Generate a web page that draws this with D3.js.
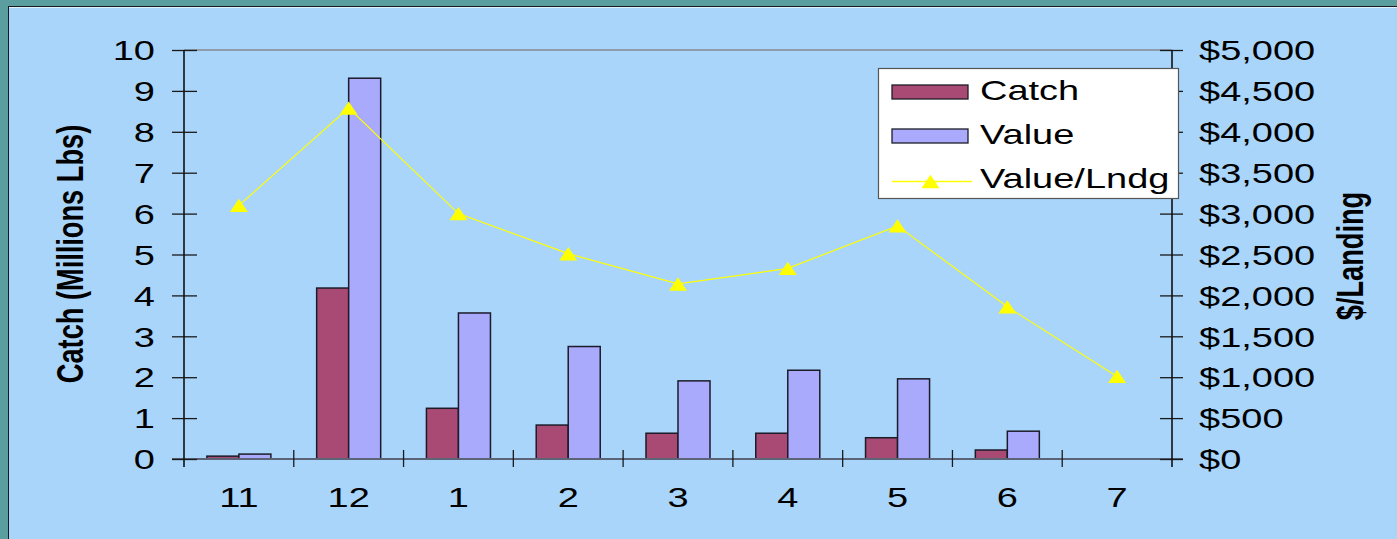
<!DOCTYPE html>
<html><head><meta charset="utf-8">
<script src="https://cdn.jsdelivr.net/npm/d3@7"></script>
<style>html,body{margin:0;padding:0;background:#5b9e9f;overflow:hidden}</style>
</head><body>
<svg id="c" width="1397" height="539"></svg>
<script>
const categories = ["11","12","1","2","3","4","5","6","7"];
const catchVals = [0.07, 4.18, 1.24, 0.83, 0.63, 0.63, 0.52, 0.22, 0];
const valueVals = [0.12, 9.31, 3.57, 2.75, 1.91, 2.17, 1.96, 0.68, 0];
const perLanding = [3100, 4290, 3000, 2510, 2140, 2330, 2850, 1860, 1010];
const leftTicks = [0,1,2,3,4,5,6,7,8,9,10];
const rightTicks = [0,500,1000,1500,2000,2500,3000,3500,4000,4500,5000];
const seriesNames = ["Catch","Value","Value/Lndg"];

const SX = 1.333; // horizontal stretch of the original picture
const FONT = "'Liberation Sans', Arial, sans-serif";
const FS = 28.5;
const colCatch = "#a94a74", colValue = "#aaaafc", colLine = "#ffff00";

const svg = d3.select("#c");
svg.append("rect").attr("x",0).attr("y",0).attr("width",1397).attr("height",539).attr("fill","#5b9e9f");
svg.append("rect").attr("x",8).attr("y",6).attr("width",1397).attr("height",539).attr("fill","#a9d5fb");
svg.append("line").attr("x1",8).attr("x2",1397).attr("y1",6.5).attr("y2",6.5).attr("stroke","#1a1a1a").attr("stroke-width",1);
svg.append("line").attr("x1",8.5).attr("x2",8.5).attr("y1",6).attr("y2",539).attr("stroke","#1a1a1a").attr("stroke-width",1);
svg.append("line").attr("x1",9).attr("x2",1397).attr("y1",7.5).attr("y2",7.5).attr("stroke","#dff0ff").attr("stroke-width",1);

const L = 184, R = 1172, T = 50, B = 459;
const x = d3.scaleBand().domain(categories).range([L, R]).padding(0);
const x1 = d3.scaleBand().domain(["Catch","Value"]).range([0, x.bandwidth()]).paddingInner(0).paddingOuter(0.715);
const yL = d3.scaleLinear().domain([0,10]).range([B, T]);
const yR = d3.scaleLinear().domain([0,5000]).range([B, T]);

function stext(g, tx, ty, str, anchor, opts) {
  opts = opts || {};
  const rot = opts.rotate ? " rotate(-90)" : "";
  return g.append("text")
    .attr("transform", `translate(${tx},${ty}) scale(${SX},1)${rot}`)
    .attr("text-anchor", anchor)
    .attr("font-family", FONT)
    .attr("font-size", opts.size || FS)
    .attr("font-weight", opts.bold ? "bold" : "normal")
    .attr("fill", "#000")
    .text(str);
}

// plot area top border
svg.append("line").attr("x1",L).attr("x2",R).attr("y1",T).attr("y2",T).attr("stroke","#8e9cab").attr("stroke-width",2);

// bars
const gBars = svg.append("g");
categories.forEach((c,i) => {
  [["Catch",catchVals[i],colCatch],["Value",valueVals[i],colValue]].forEach(([k,v,col]) => {
    if (v <= 0) return;
    gBars.append("rect")
      .attr("x", x(c) + x1(k))
      .attr("y", yL(v))
      .attr("width", x1.bandwidth())
      .attr("height", yL(0) - yL(v))
      .attr("fill", col)
      .attr("stroke", "#1c1c28")
      .attr("stroke-width", 1.5);
  });
});

// x axis line
svg.append("line").attr("x1",172).attr("x2",1183).attr("y1",B).attr("y2",B).attr("stroke","#5a6476").attr("stroke-width",2);

// left axis
const gL = svg.append("g").attr("transform",`translate(${L},0)`);
gL.call(d3.axisLeft(yL).tickValues(leftTicks).tickSize(0).tickFormat(""));
gL.select(".domain").remove();
gL.selectAll(".tick line").attr("x1",-12).attr("x2",13).attr("stroke","#1a1a1a").attr("stroke-width",1.3);
gL.append("line").attr("x1",0).attr("x2",0).attr("y1",T).attr("y2",467).attr("stroke","#111").attr("stroke-width",1.6);
leftTicks.forEach(t => stext(gL, -29, yL(t) + 10.2, String(t), "end"));

// right axis
const gR = svg.append("g").attr("transform",`translate(${R},0)`);
gR.call(d3.axisRight(yR).tickValues(rightTicks).tickSize(0).tickFormat(""));
gR.select(".domain").remove();
gR.selectAll(".tick line").attr("x1",-12).attr("x2",11).attr("stroke","#1a1a1a").attr("stroke-width",1.3);
gR.append("line").attr("x1",0).attr("x2",0).attr("y1",T).attr("y2",467).attr("stroke","#111").attr("stroke-width",1.6);
const fmt = d3.format("$,");
rightTicks.forEach(t => stext(gR, 27, yR(t) + 10.2, fmt(t), "start"));

// x category ticks and labels
const gX = svg.append("g");
const bounds = categories.map(c => x(c)).concat([R]);
bounds.slice(1, -1).forEach(bx => {
  gX.append("line").attr("x1",bx).attr("x2",bx).attr("y1",450).attr("y2",467).attr("stroke","#1a1a1a").attr("stroke-width",1.3);
});
categories.forEach(c => stext(gX, x(c) + x.bandwidth()/2, 507, c, "middle"));

// line series
const px = (d,i) => x(categories[i]) + x.bandwidth()/2;
const line = d3.line().x(px).y(d => yR(d));
svg.append("path").datum(perLanding).attr("d", line).attr("fill","none").attr("stroke",colLine).attr("stroke-width",1.2);
const tri = "M0,-6.7L9,6.7L-9,6.7Z";
svg.append("g").selectAll("path").data(perLanding).join("path")
  .attr("transform",(d,i) => `translate(${px(d,i)},${yR(d)})`)
  .attr("d", tri).attr("fill", colLine);

// axis titles
stext(svg, 83, 254, "Catch (Millions Lbs)", "middle", {rotate:true, bold:true, size:27.2});
stext(svg, 1363, 256, "$/Landing", "middle", {rotate:true, bold:true, size:27.2});

// legend
const gLeg = svg.append("g");
gLeg.append("rect").attr("x",878.5).attr("y",68.5).attr("width",300).attr("height",130).attr("fill","#fff").attr("stroke","#555").attr("stroke-width",1.2);
gLeg.append("rect").attr("x",892).attr("y",85).attr("width",76).attr("height",14).attr("fill",colCatch).attr("stroke","#1c1c28").attr("stroke-width",1.3);
gLeg.append("rect").attr("x",892).attr("y",129).attr("width",76).attr("height",14).attr("fill",colValue).attr("stroke","#1c1c28").attr("stroke-width",1.3);
gLeg.append("line").attr("x1",892).attr("x2",972).attr("y1",181.5).attr("y2",181.5).attr("stroke",colLine).attr("stroke-width",1.5);
gLeg.append("path").attr("transform","translate(930.5,181.5)").attr("d",tri).attr("fill",colLine);
stext(gLeg, 980, 100, seriesNames[0], "start");
stext(gLeg, 980, 143.5, seriesNames[1], "start");
stext(gLeg, 980, 187.5, seriesNames[2], "start");
</script>
</body></html>
